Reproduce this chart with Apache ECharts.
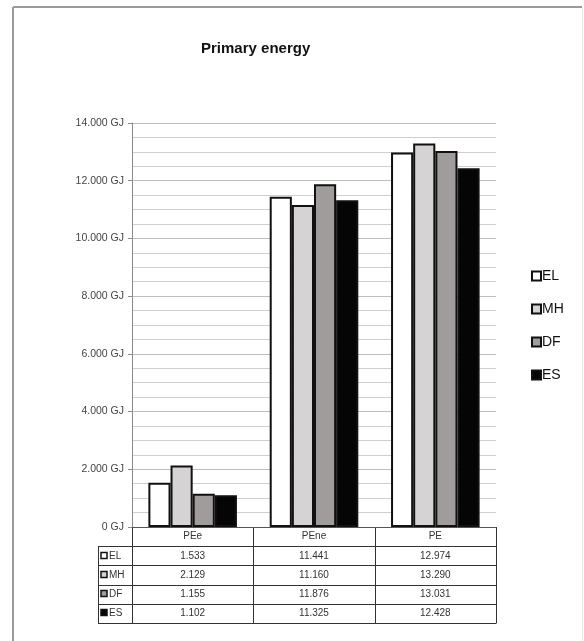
<!DOCTYPE html>
<html>
<head>
<meta charset="utf-8">
<script src="https://cdn.jsdelivr.net/npm/echarts@6/dist/echarts.min.js"></script>
<style>
  html, body { margin: 0; padding: 0; background: #fff; }
  #chart { width: 584px; height: 641px; }
</style>
</head>
<body>
<div id="chart"></div>
<script>
// Primary energy per scenario (GJ)
const categories = ['PEe', 'PEne', 'PE'];
const seriesNames = ['EL', 'MH', 'DF', 'ES'];
const EL = [1533, 11441, 12974];
const MH = [2129, 11160, 13290];
const DF = [1155, 11876, 13031];
const ES = [1102, 11325, 12428];
const seriesValues = [EL, MH, DF, ES];
const seriesColors = ['#ffffff', '#d5d3d3', '#a19c9c', '#050505'];

// thousands separated with a dot, e.g. 12.974
function fmt(v) {
  return String(v).replace(/\B(?=(\d{3})+(?!\d))/g, '.');
}

const W = 584, H = 641;
const grid = { left: 132, right: 88, top: 123, bottom: 114 };

const chart = echarts.init(document.getElementById('chart'), null, { renderer: 'canvas' });

const option = {
  backgroundColor: '#ffffff',
  animation: false,
  title: {
    text: 'Primary energy',
    left: 196,
    top: 36,
    textStyle: { fontFamily: 'Liberation Sans, Arial', fontSize: 15, fontWeight: 'bold', color: '#111' }
  },
  legend: {
    orient: 'vertical',
    left: 526,
    top: 264,
    itemWidth: 9,
    itemHeight: 9,
    itemGap: 19,
    icon: 'rect',
    data: seriesNames,
    textStyle: { fontFamily: 'Liberation Sans, Arial', fontSize: 14, color: '#111', padding: [0, 0, 0, -4] }
  },
  grid: grid,
  xAxis: {
    type: 'category',
    data: categories,
    axisLine: { show: true, lineStyle: { color: '#555', width: 1 } },
    axisTick: { show: false },
    axisLabel: { show: false }
  },
  yAxis: {
    type: 'value',
    min: 0,
    max: 14000,
    interval: 2000,
    axisLine: { show: true, lineStyle: { color: '#8a8a8a', width: 1 } },
    axisTick: { show: true, length: 4, lineStyle: { color: '#8a8a8a' } },
    axisLabel: {
      formatter: v => fmt(v) + ' GJ',
      fontFamily: 'Liberation Sans, Arial',
      fontSize: 10.5,
      color: '#444',
      margin: 8
    },
    splitLine: { show: true, lineStyle: { color: '#bdbdbd', width: 1 } },
    minorTick: { show: false, splitNumber: 4 },
    minorSplitLine: { show: true, lineStyle: { color: '#cfcfcf', width: 1 } }
  },
  series: seriesNames.map((name, i) => ({
    name: name,
    type: 'bar',
    data: seriesValues[i],
    barGap: '0%',
    barCategoryGap: '27%',
    itemStyle: { color: seriesColors[i], borderColor: '#111', borderWidth: 2 }
  }))
};

chart.setOption(option);

// Data table under the plot, built from the same arrays
function buildTable() {
  const x0 = grid.left, x1 = W - grid.right;
  const yBase = H - grid.bottom;
  const rowH = 19.2;
  const rows = seriesNames.length + 1;
  const colW = (x1 - x0) / categories.length;
  const keyLeft = 98;
  const lineStyle = { stroke: '#333', lineWidth: 1 };
  const font = '10px "Liberation Sans", Arial';
  const els = [];

  // horizontal rules
  for (let k = 1; k <= rows; k++) {
    const y = Math.round(yBase + rowH * k) + 0.5;
    els.push({ type: 'line', shape: { x1: keyLeft, y1: y, x2: x1, y2: y }, style: lineStyle });
  }
  const yEnd = Math.round(yBase + rowH * rows) + 0.5;
  // key column left edge
  els.push({ type: 'line', shape: { x1: keyLeft + 0.5, y1: Math.round(yBase + rowH) + 0.5, x2: keyLeft + 0.5, y2: yEnd }, style: lineStyle });
  // column separators
  for (let c = 0; c <= categories.length; c++) {
    const x = Math.round(x0 + colW * c) + 0.5;
    els.push({ type: 'line', shape: { x1: x, y1: yBase, x2: x, y2: yEnd }, style: lineStyle });
  }
  // header
  categories.forEach((cat, c) => {
    const cx = chart.convertToPixel({ xAxisIndex: 0 }, cat);
    els.push({
      type: 'text', x: cx, y: yBase + rowH / 2,
      style: { text: cat, font: font, fill: '#333', align: 'center', verticalAlign: 'middle' }
    });
  });
  // rows
  seriesNames.forEach((name, s) => {
    const cy = yBase + rowH * (s + 1.5);
    els.push({
      type: 'rect', shape: { x: 101, y: Math.round(cy) - 3.5, width: 6, height: 6 },
      style: { fill: seriesColors[s], stroke: '#111', lineWidth: 1.5 }
    });
    els.push({
      type: 'text', x: 109, y: cy,
      style: { text: name, font: font, fill: '#333', align: 'left', verticalAlign: 'middle' }
    });
    seriesValues[s].forEach((v, c) => {
      const cx = chart.convertToPixel({ xAxisIndex: 0 }, categories[c]);
      els.push({
        type: 'text', x: cx, y: cy,
        style: { text: fmt(v), font: font, fill: '#333', align: 'center', verticalAlign: 'middle' }
      });
    });
  });

  // chart frame
  els.push({ type: 'line', shape: { x1: 13, y1: 7, x2: 582, y2: 7 }, style: { stroke: '#9a9a9a', lineWidth: 2 } });
  els.push({ type: 'line', shape: { x1: 13, y1: 7, x2: 13, y2: H }, style: { stroke: '#9a9a9a', lineWidth: 2 } });
  els.push({ type: 'line', shape: { x1: 582.5, y1: 7, x2: 582.5, y2: H }, style: { stroke: '#e6e6e6', lineWidth: 1 } });

  chart.setOption({ graphic: { elements: els } });
}
buildTable();
</script>
</body>
</html>
